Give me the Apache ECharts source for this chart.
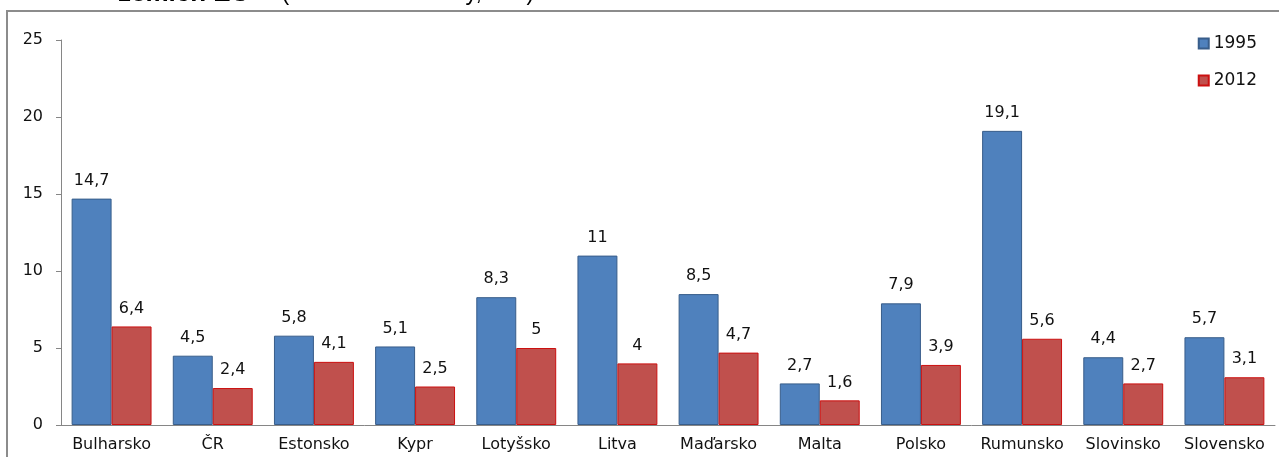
<!DOCTYPE html>
<html>
<head>
<meta charset="utf-8">
<script src="https://cdn.jsdelivr.net/npm/echarts@6/dist/echarts.min.js"></script>
<style>
  html, body { margin: 0; padding: 0; background: #fff; }
  #chart { width: 1279px; height: 457px; }
</style>
</head>
<body>
<div id="chart"></div>
<script>
const countries = ['Bulharsko', 'ČR', 'Estonsko', 'Kypr', 'Lotyšsko', 'Litva', 'Maďarsko', 'Malta', 'Polsko', 'Rumunsko', 'Slovinsko', 'Slovensko'];
const values1995 = [14.7, 4.5, 5.8, 5.1, 8.3, 11, 8.5, 2.7, 7.9, 19.1, 4.4, 5.7];
const values2012 = [6.4, 2.4, 4.1, 2.5, 5, 4, 4.7, 1.6, 3.9, 5.6, 2.7, 3.1];
const yTicks = {min: 0, max: 25, interval: 5};

const font = 'DejaVu Sans';
const axisGray = '#868686';

// Excel-like decimal comma
const fmt = p => String(p.value).replace('.', ',');

function barSeries(name, data, fill, border) {
  return {
    name: name,
    type: 'bar',
    data: data,
    barGap: '0%',
    barCategoryGap: '21%',
    itemStyle: {color: fill, borderColor: border, borderWidth: 1},
    label: {
      show: true,
      position: 'top',
      distance: 10,
      formatter: fmt,
      color: '#111',
      fontFamily: font,
      fontSize: 16
    }
  };
}

const chart = echarts.init(document.getElementById('chart'));
chart.setOption({
  animation: false,
  graphic: [
    {
      type: 'rect',
      shape: {x: 7, y: 11, width: 1400, height: 600},
      style: {fill: 'none', stroke: '#8c8c8c', lineWidth: 2},
      silent: true
    },
    {
      // title is cut off by the top edge, only its lower part shows
      type: 'text',
      x: 118,
      y: 7,
      style: {
        text: '{b|zemích EU}{r|(nominální hodnoty, v %)}',
        fontFamily: 'Liberation Sans',
        fontSize: 22,
        fill: '#000',
        textVerticalAlign: 'bottom',
        rich: {
          b: {fontWeight: 'bold', fontSize: 26, fontFamily: 'Liberation Sans', padding: [0, 32, 0, 0]},
          r: {fontSize: 23, fontFamily: 'Liberation Sans'}
        }
      },
      silent: true
    }
  ],
  legend: {
    orient: 'vertical',
    right: 17,
    top: 30,
    itemWidth: 10,
    itemHeight: 10,
    itemGap: 20,
    icon: 'rect',
    textStyle: {fontFamily: font, fontSize: 17, color: '#111', padding: [0, 0, 0, 0]}
  },
  grid: {left: 61, right: 4, top: 40, bottom: 32},
  xAxis: {
    type: 'category',
    data: countries,
    axisLine: {lineStyle: {color: axisGray}},
    axisTick: {length: 5, lineStyle: {color: axisGray}},
    axisLabel: {color: '#111', fontFamily: font, fontSize: 16, margin: 12, interval: 0}
  },
  yAxis: {
    type: 'value',
    min: yTicks.min,
    max: yTicks.max,
    interval: yTicks.interval,
    splitLine: {show: false},
    axisLine: {show: true, lineStyle: {color: axisGray}},
    axisTick: {show: true, length: 5, lineStyle: {color: axisGray}},
    axisLabel: {color: '#111', fontFamily: font, fontSize: 16, margin: 18}
  },
  series: [
    barSeries('1995', values1995, '#4F81BD', '#385D8A'),
    barSeries('2012', values2012, '#C0504D', '#CC1010')
  ]
});
</script>
</body>
</html>
